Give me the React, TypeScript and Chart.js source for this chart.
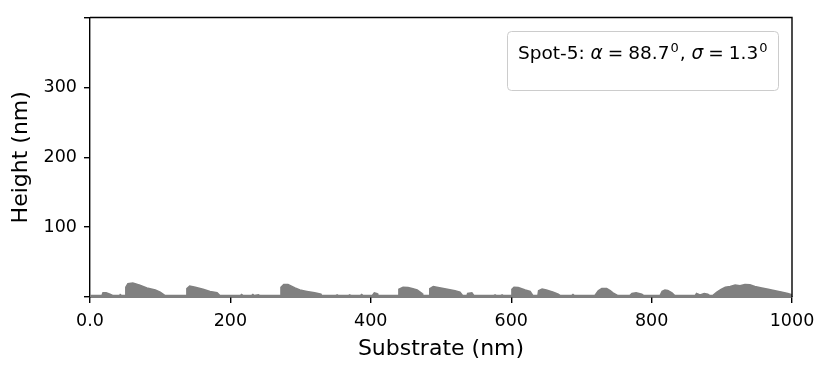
import React, { useEffect, useRef } from 'react';
import { Chart, registerables } from 'chart.js';

Chart.register(...registerables);

// Substrate position (nm)
const substrateX = [
  0, 14, 17, 18.5, 23, 28.5, 33, 42, 43, 45, 50, 51, 54, 61, 71, 81, 93, 100, 107,
  137, 138, 142, 150, 161, 171, 181, 185, 214, 216, 218, 230, 232, 234, 240, 242,
  271, 272, 276, 282, 292, 299, 309, 320, 329, 330, 350, 352, 354, 368, 370, 372,
  385, 387, 389, 402, 405, 409, 410, 439, 440, 446, 453, 460, 466, 473, 474,
  483, 484, 489, 494, 509, 520, 527, 531, 537, 538, 544, 547, 575, 577, 579,
  585, 587, 589, 600, 601, 604, 610, 620, 627, 631, 638, 639, 644, 650, 660, 667, 670,
  686, 688, 690, 719, 724, 729, 736, 741, 745, 752, 769, 772, 778, 786, 789,
  812, 815, 819, 823, 829, 833, 862, 864, 869, 875, 880, 883, 887, 893, 899, 905,
  912, 919, 926, 933, 940, 947, 957, 966, 976, 986, 994, 1000,
];
// Height (nm)
const heightNm = [
  2, 2, 2, 6, 6, 4, 2, 2, 3.5, 2, 2, 14, 19, 20, 17, 13, 10, 7, 2,
  2, 12, 15.5, 14, 11, 8, 6, 2, 2, 3.5, 2, 2, 3.5, 2, 3, 2,
  2, 14, 18, 18, 13, 10, 8, 6, 4, 2, 2, 3, 2, 2, 3, 2,
  2, 3.5, 2, 2, 6, 5, 2, 2, 11, 14, 13.5, 12, 10, 5, 2,
  2, 12, 15, 14, 11, 9, 7, 2, 2, 5, 6, 2, 2, 3, 2,
  2, 3, 2, 2, 11, 14, 13.5, 10, 8, 2, 2, 9, 11.5, 10, 7, 4, 2,
  2, 3.5, 2, 2, 9, 12, 12, 9, 6, 2, 2, 5, 6, 4, 2,
  2, 8, 10, 9.5, 6, 2, 2, 5, 3, 5, 4, 2, 2, 7, 11, 14,
  15, 17, 16, 18, 17.5, 15, 13, 11, 9, 7, 5, 3,
];

const xTickValues = [0, 200, 400, 600, 800, 1000];
const xTickLabels = ['0.0', '200', '400', '600', '800', '1000'];
const yTickValues = [0, 100, 200, 300, 400];
const yTickLabels = ['', '100', '200', '300', ''];

const xTitle = 'Substrate (nm)';
const yTitle = 'Height (nm)';

// legend: spot name, alpha and sigma
const spotName = 'Spot-5: ';
const alphaValue = '88.7';
const sigmaValue = '1.3';
const degreeMark = '0';

const FONT = 'DejaVu Sans';

const framePlugin = {
  id: 'frameAndLegend',
  afterDraw(chart: any) {
    const { ctx, chartArea } = chart;
    const { left, right, top, bottom } = chartArea;
    ctx.save();
    // top and right spines
    ctx.strokeStyle = '#000';
    ctx.lineWidth = 1.4;
    ctx.beginPath();
    ctx.moveTo(left, top);
    ctx.lineTo(right, top);
    ctx.lineTo(right, bottom);
    ctx.stroke();

    // legend box
    const bx = 507.5, by = 31.5, bw = 271, bh = 59;
    ctx.beginPath();
    ctx.roundRect(bx, by, bw, bh, 4);
    ctx.fillStyle = 'rgba(255,255,255,0.8)';
    ctx.fill();
    ctx.strokeStyle = '#cccccc';
    ctx.lineWidth = 1;
    ctx.stroke();

    // legend text
    const fs = 18.5;
    const sup = 13;
    const baseY = 59;
    const eqGap = 5;
    let x = 518;
    ctx.fillStyle = '#000';
    ctx.textBaseline = 'alphabetic';
    ctx.textAlign = 'left';
    const draw = (t: string, font: string, dy = 0, before = 0, after = 0) => {
      ctx.font = font;
      x += before;
      ctx.fillText(t, x, baseY + dy);
      x += ctx.measureText(t).width + after;
    };
    const normal = `${fs}px "${FONT}"`;
    const italic = `oblique ${fs}px "${FONT}"`;
    const small = `${sup}px "${FONT}"`;
    draw(spotName, normal);
    draw('α', italic);
    draw('=', normal, 0, eqGap, eqGap);
    draw(alphaValue, normal);
    draw(degreeMark, small, -7, 1);
    draw(', ', normal, 0, 1);
    draw('σ', italic);
    draw('=', normal, 0, eqGap, eqGap);
    draw(sigmaValue, normal);
    draw(degreeMark, small, -7, 1);
    ctx.restore();
  },
};

export default function App() {
  const ref = useRef<HTMLCanvasElement>(null);
  useEffect(() => {
    document.body.style.margin = '0';
    const points = substrateX.map((x, i) => ({ x, y: heightNm[i] }));
    const chart = new Chart(ref.current as HTMLCanvasElement, {
      type: 'line',
      data: {
        datasets: [
          {
            data: points,
            fill: 'origin',
            backgroundColor: '#808080',
            borderColor: '#808080',
            borderWidth: 1.5,
            pointRadius: 0,
            tension: 0,
          },
        ],
      },
      options: {
        animation: false,
        responsive: false,
        layout: { padding: { top: 17, right: 38, left: 0, bottom: 0 } },
        plugins: { legend: { display: false }, tooltip: { enabled: false } },
        scales: {
          x: {
            type: 'linear',
            min: 0,
            max: 1000,
            afterFit: (s: any) => {
              s.height = 71;
            },
            afterBuildTicks: (s: any) => {
              s.ticks = xTickValues.map((v) => ({ value: v }));
            },
            ticks: {
              callback: (v: any) => {
                const i = xTickValues.indexOf(Number(v));
                return i >= 0 ? xTickLabels[i] : '';
              },
              color: '#000',
              font: { family: FONT, size: 17.5 },
              padding: 8,
              maxRotation: 0,
              autoSkip: false,
            },
            grid: {
              drawOnChartArea: false,
              drawTicks: true,
              tickLength: 6,
              color: '#000',
              lineWidth: 1.4,
            },
            border: { display: true, color: '#000', width: 1.4 },
            title: {
              display: true,
              text: xTitle,
              color: '#000',
              font: { family: FONT, size: 22 },
              padding: { top: 0, bottom: 6 },
            },
          },
          y: {
            type: 'linear',
            min: 0,
            max: 400,
            afterFit: (s: any) => {
              s.width = 90;
            },
            afterBuildTicks: (s: any) => {
              s.ticks = yTickValues.map((v) => ({ value: v }));
            },
            ticks: {
              callback: (v: any) => {
                const i = yTickValues.indexOf(Number(v));
                return i >= 0 ? yTickLabels[i] : '';
              },
              color: '#000',
              font: { family: FONT, size: 17.5 },
              padding: 7,
              autoSkip: false,
            },
            grid: {
              drawOnChartArea: false,
              drawTicks: true,
              tickLength: 6,
              color: '#000',
              lineWidth: 1.4,
            },
            border: { display: true, color: '#000', width: 1.4 },
            title: {
              display: true,
              text: yTitle,
              color: '#000',
              font: { family: FONT, size: 22 },
              padding: { top: 8, bottom: 0 },
            },
          },
        },
      },
      plugins: [framePlugin],
    });
    return () => chart.destroy();
  }, []);
  return (
    <div style={{ position: 'absolute', left: 0, top: 0, width: 830, height: 368 }}>
      <canvas ref={ref} width={830} height={368} />
    </div>
  );
}
